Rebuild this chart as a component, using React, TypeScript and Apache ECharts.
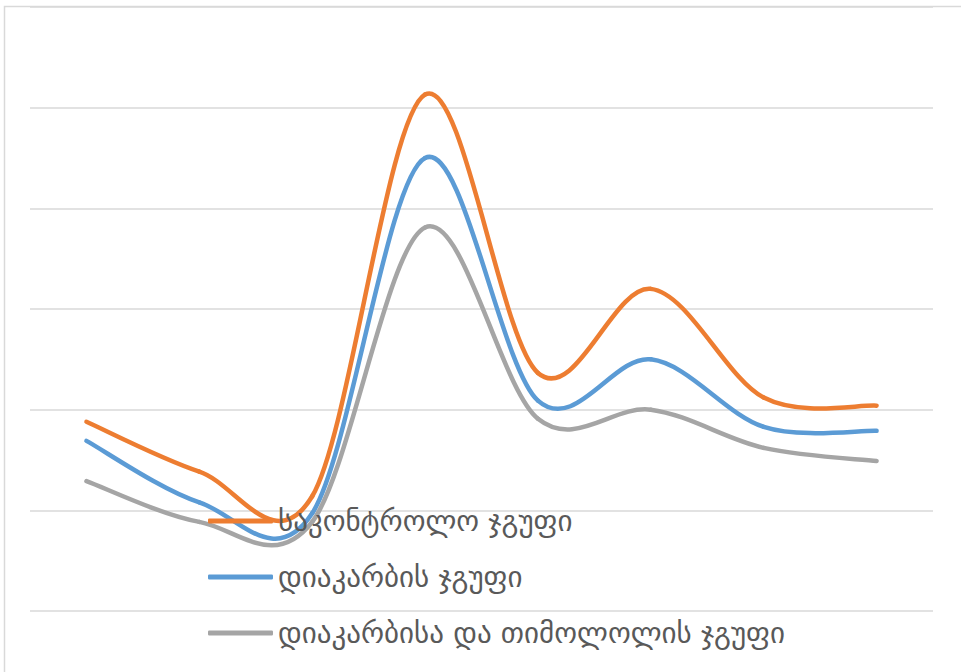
import React, { useEffect, useRef } from "react";
import * as echarts from "echarts";

const categories = ["1", "2", "3", "4", "5", "6", "7", "8"];
const seriesNames = [
  "საკონტროლო ჯგუფი",
  "დიაკარბის ჯგუფი",
  "დიაკარბისა და თიმოლოლის ჯგუფი",
];
const controlGroup = [18.8, 13.85, 11.4, 51.3, 23.65, 32.0, 21.2, 20.4];
const diacarbGroup = [16.9, 10.8, 9.7, 45.0, 20.9, 25.0, 18.3, 17.9];
const diacarbTimololGroup = [12.9, 8.85, 8.85, 38.1, 19.1, 20.0, 16.2, 14.9];
const colors = ["#ED7D31", "#5B9BD5", "#A5A5A5"];

function makeRenderItem(values: number[], color: string) {
  return (params: any, api: any) => {
    if (params.dataIndex !== 0) return null;
    const pts = values.map((v, i) => api.coord([i, v]));
    const children: any[] = [];
    for (let i = 0; i < pts.length - 1; i++) {
      const p0 = pts[i - 1] || pts[i];
      const p1 = pts[i];
      const p2 = pts[i + 1];
      const p3 = pts[i + 2] || pts[i + 1];
      children.push({
        type: "bezierCurve",
        shape: {
          x1: p1[0],
          y1: p1[1],
          cpx1: p1[0] + (p2[0] - p0[0]) / 6,
          cpy1: p1[1] + (p2[1] - p0[1]) / 6,
          cpx2: p2[0] - (p3[0] - p1[0]) / 6,
          cpy2: p2[1] - (p3[1] - p1[1]) / 6,
          x2: p2[0],
          y2: p2[1],
        },
        style: {
          fill: "none",
          stroke: color,
          lineWidth: 4.5,
          lineCap: "round",
          lineJoin: "round",
        },
      });
    }
    return { type: "group", children };
  };
}

export default function App() {
  const ref = useRef<HTMLDivElement>(null);
  useEffect(() => {
    if (!ref.current) return;
    const chart = echarts.init(ref.current, null, { renderer: "svg" });
    const data = [controlGroup, diacarbGroup, diacarbTimololGroup];
    chart.setOption({
      animation: false,
      backgroundColor: "#ffffff",
      grid: { left: 30, right: 28, top: 7, bottom: 61, containLabel: false },
      xAxis: {
        type: "category",
        data: categories,
        boundaryGap: true,
        axisLine: { show: false },
        axisTick: { show: false },
        axisLabel: { show: false },
      },
      yAxis: {
        type: "value",
        min: 0,
        max: 60,
        interval: 10,
        axisLine: { show: false },
        axisTick: { show: false },
        axisLabel: { show: false },
        splitLine: { lineStyle: { color: "#d9d9d9", width: 1.5 } },
      },
      legend: {
        orient: "vertical",
        left: 208,
        top: 506,
        padding: 0,
        itemGap: 26,
        itemWidth: 65,
        itemHeight: 5,
        icon: "roundRect",
        z: 10,
        textStyle: {
          fontFamily: "DejaVu Sans",
          fontSize: 29,
          lineHeight: 30,
          color: "#595959",
        },
        data: seriesNames,
      },
      graphic: [
        {
          type: "rect",
          shape: { x: 4.5, y: 6.5, width: 1000, height: 1000 },
          style: { fill: "none", stroke: "#d9d9d9", lineWidth: 1.5 },
          silent: true,
        },
      ],
      series: seriesNames.map((name, i) => ({
        name,
        type: "custom",
        coordinateSystem: "cartesian2d",
        data: data[i].map((v, j) => [j, v]),
        encode: { x: 0, y: 1 },
        itemStyle: { color: colors[i] },
        renderItem: makeRenderItem(data[i], colors[i]),
        clip: false,
        z: 2,
      })),
    });
    return () => chart.dispose();
  }, []);
  return (
    <div
      ref={ref}
      style={{ position: "fixed", left: 0, top: 0, width: 961, height: 672 }}
    />
  );
}
